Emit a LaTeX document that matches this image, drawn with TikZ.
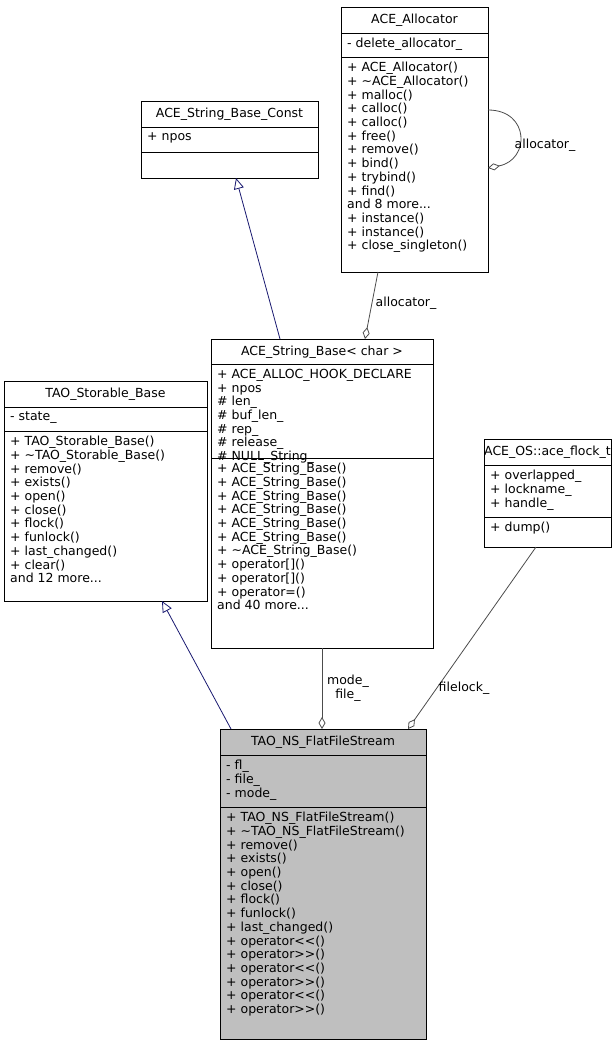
\documentclass[tikz,border=0pt]{standalone}
\usepackage{fontspec}
\setmainfont{DejaVu Sans}
\usetikzlibrary{arrows.meta}
\begin{document}
\begin{tikzpicture}[x=1pt,y=-1pt,
  box/.style={draw=black,line width=0.8pt,inner sep=0},
  ttl/.style={font=\fontsize{12.5}{13}\selectfont,inner sep=0,anchor=center},
  txt/.style={font=\fontsize{12.5}{13.7}\selectfont,inner sep=0,anchor=north west,align=left},
  inh/.style={draw={rgb,255:red,25;green,25;blue,112},line width=0.8pt,-{Triangle[open,length=11pt,width=10pt,fill=white]}},
  agg/.style={draw=black!70,line width=0.8pt,{Diamond[open,length=12pt,width=7pt,fill=white]}-},
  lbl/.style={font=\fontsize{12.5}{13.5}\selectfont,inner sep=0,align=center}]
\useasboundingbox (0,0) rectangle (616,1045);
% ACE_Allocator
\draw[box] (341,7) rectangle (488,272);
\draw[line width=0.8pt] (341,33)--(488,33) (341,57)--(488,57);
\node[ttl] (al) at (414.5,20) {ACE\_Allocator};
\node[txt] at (347,38) {- delete\_allocator\_};
\node[txt] at (347,62) {+ ACE\_Allocator()\\+ \textasciitilde ACE\_Allocator()\\+ malloc()\\+ calloc()\\+ calloc()\\+ free()\\+ remove()\\+ bind()\\+ trybind()\\+ find()\\and 8 more...\\+ instance()\\+ instance()\\+ close\_singleton()};
% ACE_String_Base_Const
\draw[box] (141,101) rectangle (318,178);
\draw[line width=0.8pt] (141,127)--(318,127) (141,152)--(318,152);
\node[ttl] at (229.5,114) {ACE\_String\_Base\_Const};
\node[txt] at (147,132) {+ npos};
% ACE_String_Base<char>
\draw[box] (211,339) rectangle (433,648);
\draw[line width=0.8pt] (211,364)--(433,364) (211,458)--(433,458);
\node[ttl] at (322,352) {ACE\_String\_Base< char >};
\node[txt] at (217,369) {+ ACE\_ALLOC\_HOOK\_DECLARE\\+ npos\\\# len\_\\\# buf\_len\_\\\# rep\_\\\# release\_\\\# NULL\_String\_};
\node[txt] at (217,463) {+ ACE\_String\_Base()\\+ ACE\_String\_Base()\\+ ACE\_String\_Base()\\+ ACE\_String\_Base()\\+ ACE\_String\_Base()\\+ ACE\_String\_Base()\\+ \textasciitilde ACE\_String\_Base()\\+ operator[]()\\+ operator[]()\\+ operator=()\\and 40 more...};
% TAO_Storable_Base
\draw[box] (4,381) rectangle (207,601);
\draw[line width=0.8pt] (4,407)--(207,407) (4,431)--(207,431);
\node[ttl] at (105.5,394) {TAO\_Storable\_Base};
\node[txt] at (10,412) {- state\_};
\node[txt] at (10,436) {+ TAO\_Storable\_Base()\\+ \textasciitilde TAO\_Storable\_Base()\\+ remove()\\+ exists()\\+ open()\\+ close()\\+ flock()\\+ funlock()\\+ last\_changed()\\+ clear()\\and 12 more...};
% ACE_OS::ace_flock_t
\draw[box] (484,439) rectangle (611,547);
\draw[line width=0.8pt] (484,465)--(611,465) (484,517)--(611,517);
\node[ttl] at (547.5,452) {ACE\_OS::ace\_flock\_t};
\node[txt] at (490,470) {+ overlapped\_\\+ lockname\_\\+ handle\_};
\node[txt] at (490,522) {+ dump()};
% TAO_NS_FlatFileStream
\draw[box,fill={rgb,255:red,191;green,191;blue,191}] (220,729) rectangle (426,1039);
\draw[line width=0.8pt] (220,755)--(426,755) (220,807)--(426,807);
\node[ttl] at (323,742) {TAO\_NS\_FlatFileStream};
\node[txt] at (226,760) {- fl\_\\- file\_\\- mode\_};
\node[txt] at (226,812) {+ TAO\_NS\_FlatFileStream()\\+ \textasciitilde TAO\_NS\_FlatFileStream()\\+ remove()\\+ exists()\\+ open()\\+ close()\\+ flock()\\+ funlock()\\+ last\_changed()\\+ operator<{}<()\\+ operator>{}>()\\+ operator<{}<()\\+ operator>{}>()\\+ operator<{}<()\\+ operator>{}>()};
% connector endpoints
\coordinate (sbTop) at (280,339);
\coordinate (sbcBot) at (236,178);
\coordinate (alBot) at (378,272);
\coordinate (sbTopR) at (365,339);
\coordinate (alR1) at (488,110);
\coordinate (alR2) at (488,168);
\coordinate (ffTopL) at (231,729);
\coordinate (stBot) at (162,601);
\coordinate (sbBot) at (322,648);
\coordinate (ffTopM) at (322,729);
\coordinate (flBot) at (536,547);
\coordinate (ffTopR) at (408,729);
% edges
\draw[inh] (sbTop) -- (sbcBot);
\draw[agg] (sbTopR) -- (alBot);
\node[lbl] at (406,303) {allocator\_};
\draw[agg] (alR2) .. controls (530,160) and (530,110) .. (alR1);
\node[lbl] at (545,145) {allocator\_};
\draw[inh] (ffTopL) -- (stBot);
\draw[agg] (ffTopM) -- (sbBot);
\node[lbl] at (348,688) {mode\_\\file\_};
\draw[agg] (ffTopR) -- (flBot);
\node[lbl] at (464,688) {filelock\_};
\end{tikzpicture}
\end{document}
